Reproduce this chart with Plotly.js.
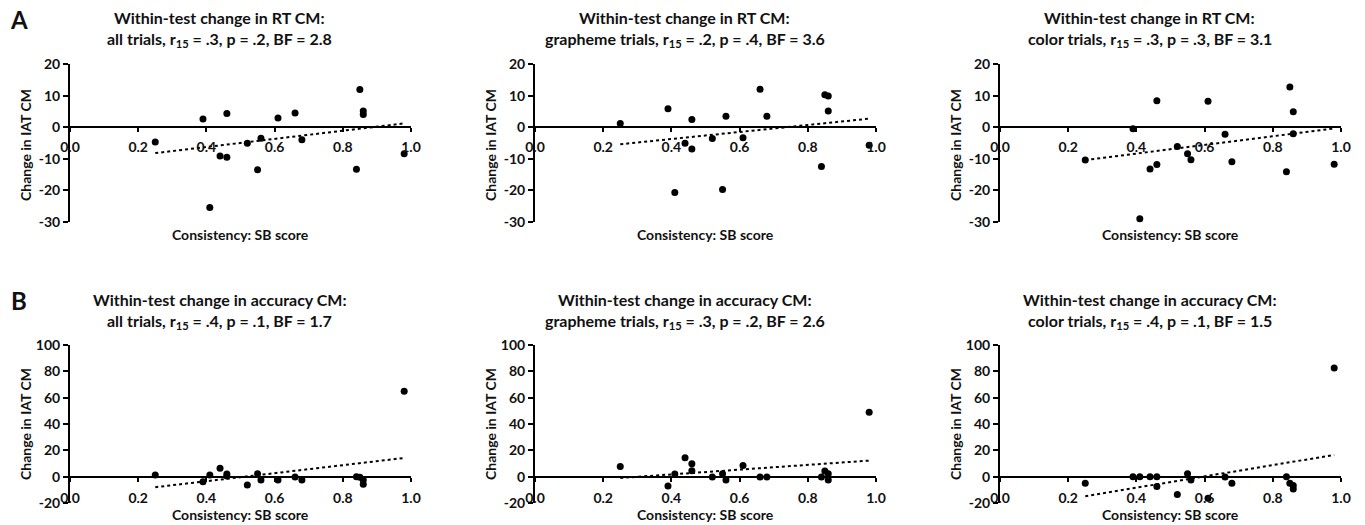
<!DOCTYPE html>
<html>
<head>
<meta charset="utf-8">
<script src="https://cdn.plot.ly/plotly-3.0.1.min.js"></script>
<style>html,body{margin:0;padding:0;background:#fff;}#chart{width:1365px;height:525px;}</style>
</head>
<body>
<div id="chart"></div>
<script>
// ---- data ----
const sbScore = [0.25,0.39,0.41,0.44,0.46,0.46,0.52,0.55,0.56,0.61,0.66,0.68,0.84,0.85,0.86,0.86,0.98];
const rtAll      = [-4.7,2.6,-25.4,-9.1,4.3,-9.5,-5.1,-13.5,-3.5,2.9,4.5,-4.0,-13.3,11.9,5.1,4.0,-8.4];
const rtGrapheme = [1.2,5.8,-20.7,-5.1,2.4,-6.9,-3.6,-19.7,3.5,-3.3,12.0,3.5,-12.4,10.3,9.9,5.1,-5.7];
const rtColor    = [-10.4,-0.5,-29.0,-13.2,8.4,-11.8,-6.1,-8.4,-10.3,8.2,-2.2,-10.9,-14.1,12.7,4.9,-2.1,-11.7];
const accAll      = [1.3,-3.8,1.3,6.3,2.0,0.5,-6.3,2.3,-2.5,-2.5,-0.3,-2.5,0,-0.5,-2.5,-5.8,64.8];
const accGrapheme = [7.8,-7.0,2.0,14.3,9.8,4.5,-0.3,2.3,-2.5,8.5,-0.3,-0.3,-0.3,4.3,2.3,-2.5,48.9];
const accColor    = [-5.0,0,0,0,0,-7.5,-13.5,2.3,-2.5,-16.3,-0.3,-5.0,0,-5.0,-6.8,-9.3,82.5];

const trendX = [0.25, 0.98];
const trendRtAll = [-8.2, 1.2];
const trendRtGrapheme = [-5.4, 2.7];
const trendRtColor = [-10.4, -0.4];
const trendAccAll = [-8.0, 14.2];
const trendAccGrapheme = [-1.0, 12.2];
const trendAccColor = [-14.8, 16.5];

const titleLine1 = ["Within-test change in RT CM:","Within-test change in RT CM:","Within-test change in RT CM:",
  "Within-test change in accuracy CM:","Within-test change in accuracy CM:","Within-test change in accuracy CM:"];
const titleLine2 = [
  "all trials, r<sub>15</sub> = .3, p = .2, BF = 2.8",
  "grapheme trials, r<sub>15</sub> = .2, p = .4, BF = 3.6",
  "color trials, r<sub>15</sub> = .3, p = .3, BF = 3.1",
  "all trials, r<sub>15</sub> = .4, p = .1, BF = 1.7",
  "grapheme trials, r<sub>15</sub> = .3, p = .2, BF = 2.6",
  "color trials, r<sub>15</sub> = .4, p = .1, BF = 1.5"];
const xTickVals = [0,0.2,0.4,0.6,0.8,1.0];
const xTickText = ["0.0","0.2","0.4","0.6","0.8","1.0"];
const yTickValsRT = [-30,-20,-10,0,10,20];
const yTickTextRT = ["-30","-20","-10","0","10","20"];
const yTickValsAcc = [-20,0,20,40,60,80,100];
const yTickTextAcc = ["-20","0","20","40","60","80","100"];
const yRangeRT = [-30, 20];
const yRangeAcc = [-20, 100];
const xTitle = "Consistency: SB score";
const yTitle = "Change in IAT CM";
const panelLetters = ["A","B"];

// ---- layout geometry (pixels) ----
const W = 1365, H = 525;
const fx = p => p / W;
const fy = p => 1 - p / H;
const colLeft = [70, 535, 1000];
const plotW = 341;
const rowTop = [64, 345];
const rowBot = [222, 503];
const FONT = "Lato, 'Open Sans', sans-serif";
const TXT = "#111";

const series = [rtAll, rtGrapheme, rtColor, accAll, accGrapheme, accColor];
const trends = [trendRtAll, trendRtGrapheme, trendRtColor, trendAccAll, trendAccGrapheme, trendAccColor];

const traces = [];
const layout = {
  width: W, height: H,
  margin: {l:0, r:0, t:0, b:0},
  paper_bgcolor: "#fff", plot_bgcolor: "rgba(0,0,0,0)",
  showlegend: false,
  font: {family: FONT, color: TXT},
  annotations: []
};

for (let i = 0; i < 6; i++) {
  const row = Math.floor(i / 3), col = i % 3;
  const n = i + 1;
  const xa = "x" + (n === 1 ? "" : n), ya = "y" + (n === 1 ? "" : n);
  const xk = "xaxis" + (n === 1 ? "" : n), yk = "yaxis" + (n === 1 ? "" : n);
  const yr = row === 0 ? yRangeRT : yRangeAcc;
  const x0 = colLeft[col], x1 = colLeft[col] + plotW;
  const yTopPx = rowTop[row], yBotPx = rowBot[row];
  const zeroFrac = (0 - yr[0]) / (yr[1] - yr[0]);
  const yDom = [fy(yBotPx), fy(yTopPx)];
  const zeroPos = yDom[0] + zeroFrac * (yDom[1] - yDom[0]);

  traces.push({
    type: "scatter", mode: "lines", x: trendX, y: trends[i],
    xaxis: xa, yaxis: ya,
    line: {color: "#000", width: 2, dash: "dot"}, hoverinfo: "skip"
  });
  traces.push({
    type: "scatter", mode: "markers", x: sbScore, y: series[i],
    xaxis: xa, yaxis: ya, cliponaxis: false,
    marker: {color: "#000", size: 7}
  });

  layout[xk] = {
    domain: [fx(x0), fx(x1)], range: [0, 1], anchor: "free", position: zeroPos,
    showline: true, linecolor: "#000", linewidth: 2,
    ticks: "outside", ticklen: 4, tickwidth: 2, tickcolor: "#000",
    tickvals: xTickVals, ticktext: xTickText,
    ticklabelstandoff: row === 0 ? 3 : 5,
    tickfont: {family: FONT, size: 14, weight: "bold", color: TXT},
    showgrid: false, zeroline: false, fixedrange: true
  };
  layout[yk] = {
    domain: yDom, range: yr, anchor: xa,
    showline: true, linecolor: "#000", linewidth: 2,
    ticks: "outside", ticklen: 5, tickwidth: 2, tickcolor: "#000",
    tickvals: row === 0 ? yTickValsRT : yTickValsAcc,
    ticktext: row === 0 ? yTickTextRT : yTickTextAcc,
    tickfont: {family: FONT, size: 14, weight: "bold", color: TXT},
    showgrid: false, zeroline: false, fixedrange: true
  };

  const titleCx = (x0 + x1) / 2 - 21;
  const t1y = row === 0 ? 17 : 299;
  const t2y = row === 0 ? 39 : 321;
  layout.annotations.push({xref:"paper", yref:"paper", x: fx(titleCx), y: fy(t1y), xanchor:"center", yanchor:"middle",
    showarrow:false, text: titleLine1[i], font:{family:FONT, size:16, weight:"bold", color:TXT}});
  layout.annotations.push({xref:"paper", yref:"paper", x: fx(titleCx), y: fy(t2y), xanchor:"center", yanchor:"middle",
    showarrow:false, text: titleLine2[i], font:{family:FONT, size:16, weight:"bold", color:TXT}});
  // x axis title (below plot area)
  layout.annotations.push({xref:"paper", yref:"paper", x: fx((x0 + x1) / 2), y: fy(row === 0 ? 234 : 514),
    xanchor:"center", yanchor:"middle", showarrow:false, text: xTitle,
    font:{family:FONT, size:14, weight:"bold", color:TXT}});
  // y axis title
  layout.annotations.push({xref:"paper", yref:"paper", x: fx(x0 - 45), y: fy(row === 0 ? 145 : 424),
    xanchor:"center", yanchor:"middle", showarrow:false, textangle:-90, text: yTitle,
    font:{family:FONT, size:14, weight:"bold", color:TXT}});
}
layout.annotations.push({xref:"paper", yref:"paper", x: fx(19), y: fy(19), xanchor:"center", yanchor:"middle",
  showarrow:false, text: panelLetters[0], font:{family:FONT, size:24, weight:"bold", color:TXT}});
layout.annotations.push({xref:"paper", yref:"paper", x: fx(19), y: fy(300), xanchor:"center", yanchor:"middle",
  showarrow:false, text: panelLetters[1], font:{family:FONT, size:24, weight:"bold", color:TXT}});

Plotly.newPlot("chart", traces, layout, {displayModeBar: false, staticPlot: true});
</script>
</body>
</html>
